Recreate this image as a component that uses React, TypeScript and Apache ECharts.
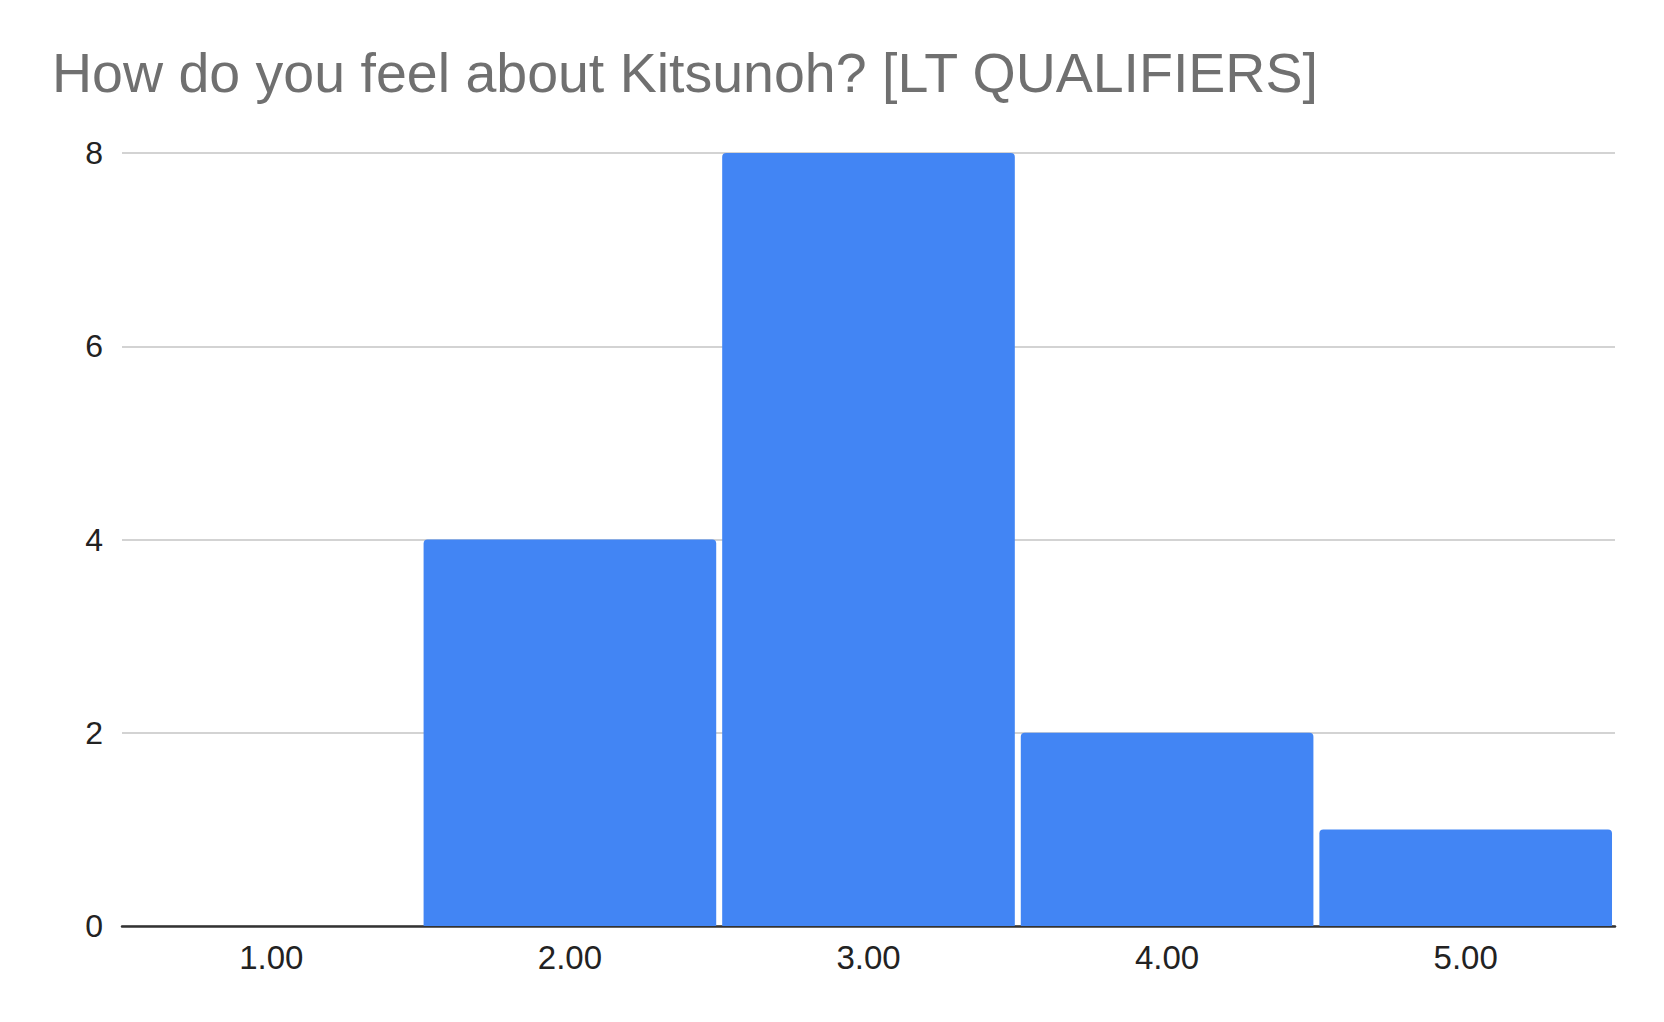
import React, { useEffect, useRef } from "react";
import * as echarts from "echarts";

const titleText = "How do you feel about Kitsunoh? [LT QUALIFIERS]";
const categories = ["1.00", "2.00", "3.00", "4.00", "5.00"];
const counts = [0, 4, 8, 2, 1];
const yMin = 0;
const yMax = 8;
const yInterval = 2;

const FONT = "'Liberation Sans', Arial, Helvetica, sans-serif";

export default function App() {
  const ref = useRef<HTMLDivElement>(null);
  useEffect(() => {
    if (!ref.current) return;
    const chart = echarts.init(ref.current, null, { renderer: "svg" });
    chart.setOption({
      animation: false,
      backgroundColor: "#ffffff",
      title: {
        text: titleText,
        left: 47,
        top: 40,
        textStyle: {
          fontFamily: FONT,
          fontSize: 55.5,
          fontWeight: "normal",
          color: "#707070",
        },
      },
      grid: { left: 122, right: 49, top: 153, bottom: 96, containLabel: false },
      xAxis: {
        type: "category",
        data: categories,
        axisLine: { show: true, lineStyle: { color: "#333333", width: 2.5 } },
        axisTick: { show: false },
        axisLabel: {
          fontFamily: FONT,
          fontSize: 33,
          color: "#222222",
          margin: 15,
        },
        splitLine: { show: false },
      },
      yAxis: {
        type: "value",
        min: yMin,
        max: yMax,
        interval: yInterval,
        axisLine: { show: false },
        axisTick: { show: false },
        axisLabel: {
          fontFamily: FONT,
          fontSize: 32,
          color: "#222222",
          margin: 19,
        },
        splitLine: { show: true, lineStyle: { color: "#d3d3d3", width: 2 } },
      },
      series: [
        {
          type: "bar",
          data: counts,
          barCategoryGap: "2%",
          itemStyle: { color: "#4285F4", borderRadius: [4, 4, 0, 0] },
        },
      ],
    });
    return () => chart.dispose();
  }, []);
  return (
    <div
      ref={ref}
      style={{ position: "fixed", left: 0, top: 0, width: 1664, height: 1022 }}
    />
  );
}
